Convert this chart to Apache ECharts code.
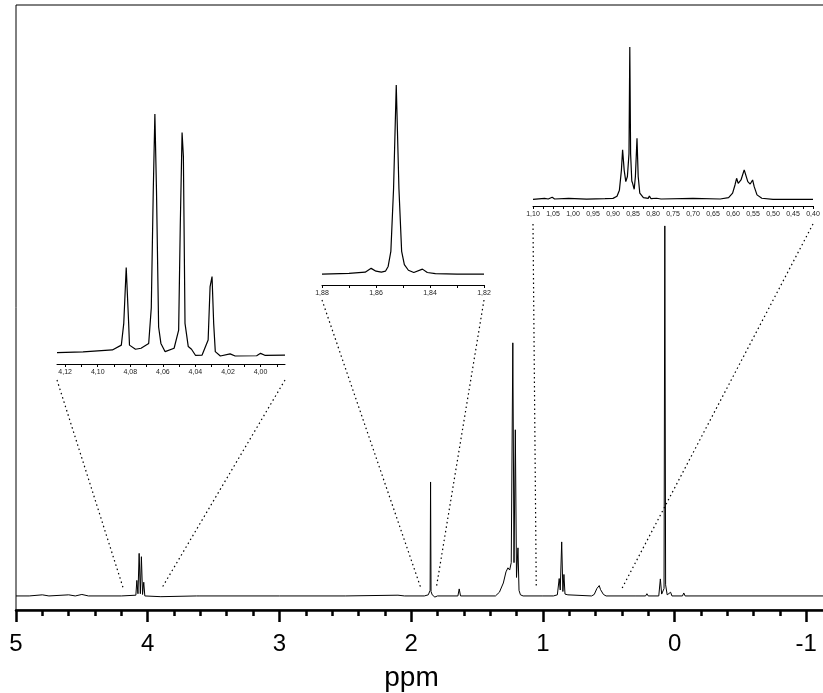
<!DOCTYPE html>
<html>
<head>
<meta charset="utf-8">
<title>1H NMR spectrum</title>
<script src="https://cdn.jsdelivr.net/npm/echarts@6/dist/echarts.min.js"></script>
<style>
  html, body { margin: 0; padding: 0; background: #fff; }
  #chart { width: 823px; height: 693px; }
</style>
</head>
<body>
<div id="chart"></div>
<script>
// ---- full spectrum (chemical shift in ppm, intensity in arbitrary units, TMS = 100) ----
const mainPpm = [5.0, 4.9, 4.8, 4.75, 4.6, 4.55, 4.5, 4.45, 4.2, 4.09, 4.0825, 4.074, 4.065, 4.056, 4.048, 4.039, 4.030, 4.022,
  3.9, 3.63, 3.62, 3.61, 3.0, 2.5, 2.1, 2.05, 1.90, 1.87, 1.856, 1.8525, 1.849, 1.84, 1.82, 1.80, 1.645, 1.635, 1.625,
  1.36, 1.33, 1.30, 1.28, 1.265, 1.252, 1.240, 1.228, 1.219, 1.209, 1.200, 1.189, 1.181, 1.17, 1.15,
  1.0, 0.92, 0.89, 0.876, 0.868, 0.857, 0.848, 0.840, 0.832, 0.81, 0.80, 0.63, 0.61, 0.59, 0.58, 0.572, 0.562, 0.553, 0.54, 0.52,
  0.3, 0.22, 0.21, 0.20, 0.12, 0.108, 0.098, 0.08, 0.074, 0.068, 0.062, 0.056, 0.03, 0.02, -0.06, -0.07, -0.08, -1.2];
const mainInt = [0, 0, 0.3, 0, 0.3, 0, 0.4, 0, 0, 0.2, 4.2, 0.6, 11.5, 0.6, 10.6, 0.4, 3.7, 0,
  -0.2, 0, 0.4, 0, 0, 0, 0.2, 0, 0, 0.3, 1.5, 30.8, 1.2, 0.3, -0.3, 0, 0, 1.9, 0,
  0, 1, 3.5, 6.5, 7.6, 7, 9, 68.4, 9, 44.9, 5, 13, 1.5, 0.3, 0,
  0, 0, 0.3, 4.7, 1.6, 14.6, 1.2, 5.8, 0.5, 0.3, 0, 0, 0.4, 2.0, 1.7, 2.8, 1.7, 1.8, 0.4, 0,
  0, 0, 0.6, 0, 0, 4.6, 0.5, 2, 100, 3, 3.5, 0.3, 1, 0, 0, 0.8, 0, 0];

// ---- expansion 4.13–3.98 ppm (quartet, tallest line = 100) ----
const zoomAPpm = [4.125, 4.109, 4.091, 4.0855, 4.084, 4.0825, 4.081, 4.0805, 4.0768, 4.0734, 4.0687, 4.0671, 4.0659, 4.0649,
  4.0639, 4.0626, 4.0612, 4.0586, 4.0531, 4.0503, 4.0493, 4.0482, 4.0474, 4.0464, 4.0444, 4.0424, 4.040, 4.0359,
  4.0322, 4.031, 4.0298, 4.0288, 4.0278, 4.0247, 4.0187, 4.0156, 4.0024, 4.000, 3.9974, 3.985];
const zoomAInt = [1.4, 1.7, 2.5, 4.5, 13.5, 36.6, 13.5, 4.5, 2.8, 3.2, 5.2, 20, 68, 100,
  68, 12, 5.2, 1.8, 3.2, 10.7, 54, 92.3, 82.5, 13.5, 3.9, 2.8, 0.3, 0.4,
  6.6, 28.7, 32.8, 13.5, 1.8, 0, 0.9, 0, 0.1, 1.1, 0.3, 0.4];
const zoomATicks = [4.12, 4.11, 4.10, 4.09, 4.08, 4.07, 4.06, 4.05, 4.04, 4.03, 4.02, 4.01, 4.00, 3.99];
const zoomALabels = [4.12, 4.10, 4.08, 4.06, 4.04, 4.02, 4.00];

// ---- expansion 1.88–1.82 ppm (singlet) ----
const zoomBPpm = [1.88, 1.870, 1.864, 1.8618, 1.860, 1.858, 1.8565, 1.8555, 1.8545, 1.8535, 1.8525, 1.8515, 1.8505,
  1.8495, 1.848, 1.846, 1.8428, 1.8410, 1.838, 1.83, 1.82];
const zoomBInt = [0, 0.3, 1, 3.0, 1.5, 1.0, 1.5, 4, 12, 45, 100, 45, 12, 5, 2, 0.8, 2.6, 0.8, 0.2, 0, 0];
const zoomBTicks = [1.88, 1.87, 1.86, 1.85, 1.84, 1.83, 1.82];
const zoomBLabels = [1.88, 1.86, 1.84, 1.82];

// ---- expansion 1.10–0.40 ppm (triplet and multiplet) ----
const zoomCPpm = [1.10, 1.071, 1.062, 1.052, 1.046, 1.011, 0.966, 0.92, 0.90, 0.89, 0.884, 0.879, 0.876, 0.872, 0.868,
  0.864, 0.860, 0.858, 0.856, 0.853, 0.851, 0.847, 0.844, 0.840, 0.837, 0.833, 0.824, 0.812, 0.809, 0.805, 0.791, 0.78,
  0.70, 0.695, 0.632, 0.611, 0.601, 0.595, 0.591, 0.587, 0.580, 0.572, 0.563, 0.557, 0.551, 0.547, 0.540, 0.528, 0.50, 0.40];
const zoomCInt = [0, 0.6, 0.2, 1.3, 0.2, 0.6, 0.1, 0.4, 0.6, 2, 6, 19, 32.5, 19, 11.6,
  15, 30, 100, 30, 12, 10.5, 6.6, 15, 40, 15, 4, 1.1, 0.6, 2.2, 0.4, 0.7, 0.2,
  0.6, 0.1, 0.2, 1.1, 4, 9.4, 13.8, 10.5, 12.7, 19.3, 11.6, 10, 12.7, 8.3, 2.9, 0.7, 0, 0];
const zoomCTicks = [1.100, 1.075, 1.050, 1.025, 1.000, 0.975, 0.950, 0.925, 0.900, 0.875, 0.850, 0.825, 0.800, 0.775,
  0.750, 0.725, 0.700, 0.675, 0.650, 0.625, 0.600, 0.575, 0.550, 0.525, 0.500, 0.475, 0.450, 0.425, 0.400];
const zoomCLabels = [1.10, 1.05, 1.00, 0.95, 0.90, 0.85, 0.80, 0.75, 0.70, 0.65, 0.60, 0.55, 0.50, 0.45, 0.40];

// ---- connector lines: [expansion index, expansion axis end (ppm), target on full spectrum (ppm)] ----
const connectors = [
  [1, 4.125, 4.185], [1, 3.985, 3.895],
  [2, 1.88, 1.925], [2, 1.82, 1.81],
  [3, 1.10, 1.05], [3, 0.40, 0.40]
];

const zip = (xs, ys) => xs.map((x, i) => [x, ys[i]]);
const FONT = '"Liberation Sans", Arial, sans-serif';
const commaFmt = v => Number(v).toFixed(2).replace('.', ',');

function insetXAxis(idx, min, max, ticks, labels) {
  return {
    gridIndex: idx, type: 'value', inverse: true, min: min, max: max,
    axisLine: { show: true, onZero: false, lineStyle: { color: '#000', width: 1 } },
    axisTick: { show: true, customValues: ticks, length: 3, lineStyle: { color: '#000', width: 1 } },
    axisLabel: { show: true, customValues: labels, formatter: commaFmt, fontSize: 7, color: '#222', margin: 5, fontFamily: FONT },
    splitLine: { show: false }
  };
}
function insetYAxis(idx, min) {
  return { gridIndex: idx, type: 'value', min: min, max: 100, show: false, splitLine: { show: false } };
}
function spectrumSeries(idx, data, width) {
  return {
    type: 'line', xAxisIndex: idx, yAxisIndex: idx, data: data,
    showSymbol: false, symbol: 'none', smooth: false, clip: true,
    lineStyle: { color: '#000', width: width }, silent: true
  };
}

const chart = echarts.init(document.getElementById('chart'), null, { renderer: 'canvas' });

chart.setOption({
  animation: false,
  backgroundColor: '#fff',
  // axis title, centred on the visible part of the shift axis
  title: {
    text: 'ppm', left: 'center', top: 659,
    textStyle: { fontSize: 28, fontWeight: 'normal', color: '#000', fontFamily: FONT }
  },
  grid: [
    // the main frame runs on past the right edge of the page
    { left: 16, top: 5, width: 922, height: 605, show: true, borderColor: '#000', borderWidth: 1,
      backgroundColor: 'transparent', containLabel: false, outerBoundsMode: 'none' },
    { left: 57, top: 114, width: 228, height: 250, outerBoundsMode: 'none' },
    { left: 322, top: 85, width: 162, height: 200, outerBoundsMode: 'none' },
    { left: 533, top: 47, width: 280, height: 159, outerBoundsMode: 'none' }
  ],
  xAxis: [
    {
      gridIndex: 0, type: 'value', inverse: true, min: -2, max: 5, interval: 1,
      axisLine: { show: true, onZero: false, lineStyle: { color: '#000', width: 2.5 } },
      axisTick: { show: true, length: 12, lineStyle: { color: '#000', width: 2.5 } },
      minorTick: { show: true, splitNumber: 5, length: 6, lineStyle: { color: '#000', width: 2.5 } },
      axisLabel: { fontSize: 24, color: '#000', margin: 22, fontFamily: FONT },
      splitLine: { show: false }, minorSplitLine: { show: false }
    },
    insetXAxis(1, 3.985, 4.125, zoomATicks, zoomALabels),
    insetXAxis(2, 1.82, 1.88, zoomBTicks, zoomBLabels),
    insetXAxis(3, 0.40, 1.10, zoomCTicks, zoomCLabels)
  ],
  yAxis: [
    { gridIndex: 0, type: 'value', min: -3.8, max: 159.7, show: false, splitLine: { show: false } },
    insetYAxis(1, -3.3),
    insetYAxis(2, -5.8),
    insetYAxis(3, -4.4)
  ],
  series: [
    spectrumSeries(0, zip(mainPpm, mainInt), 1),
    spectrumSeries(1, zip(zoomAPpm, zoomAInt), 1.2),
    spectrumSeries(2, zip(zoomBPpm, zoomBInt), 1.2),
    spectrumSeries(3, zip(zoomCPpm, zoomCInt), 1.2)
  ]
});

// dotted connectors from each expansion's axis ends down to the region it magnifies
const startOffset = { 1: 16, 2: 15, 3: 18 };
const insetMin = { 1: -3.3, 2: -5.8, 3: -4.4 };
const lines = connectors.map(([idx, endPpm, targetPpm]) => {
  const p0 = chart.convertToPixel({ xAxisIndex: idx, yAxisIndex: idx }, [endPpm, insetMin[idx]]);
  const p1 = chart.convertToPixel({ xAxisIndex: 0, yAxisIndex: 0 }, [targetPpm, 2]);
  return {
    type: 'line', silent: true,
    shape: { x1: p0[0], y1: p0[1] + startOffset[idx], x2: p1[0], y2: p1[1] },
    style: { stroke: '#000', lineWidth: 1.2, lineDash: [1.5, 3] }
  };
});
chart.setOption({ graphic: { elements: lines } });
</script>
</body>
</html>
